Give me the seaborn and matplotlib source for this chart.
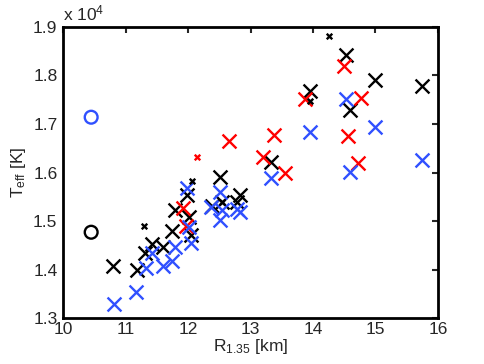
import matplotlib
matplotlib.use("Agg")
import matplotlib.pyplot as plt
import seaborn as sns
import pandas as pd

# R_1.35 [km], T_eff [K]
black_R = [10.80, 11.18, 11.31, 11.42, 11.60, 11.74, 11.79, 11.98, 12.02, 12.05,
           12.51, 12.38, 12.54, 12.83, 12.78, 13.33, 14.53, 13.95, 14.99, 15.74, 14.59]
black_T = [14070, 13990, 14340, 14530, 14470, 14800, 15230, 15540, 15090, 14720,
           15900, 15310, 15390, 15540, 15390, 16220, 18420, 17680, 17910, 17780, 17290]

black_small_R = [14.26, 13.95, 11.30, 12.06, 12.54]
black_small_T = [18810, 17470, 14900, 15820, 15390]

red_R = [12.66, 13.20, 13.55, 11.92, 11.97, 13.87, 14.50, 14.77, 13.38, 14.56, 14.72]
red_T = [16650, 16320, 15990, 15270, 14900, 17520, 18200, 17540, 16770, 16750, 16200]

red_small_R = [12.14]
red_small_T = [16320]

blue_R = [10.82, 11.17, 11.33, 11.42, 11.60, 11.74, 11.79, 11.98, 12.02, 12.05,
          12.51, 12.37, 12.54, 12.51, 12.83, 12.78, 13.33, 13.95, 14.53, 14.99,
          14.59, 15.74]
blue_T = [13290, 13540, 14030, 14340, 14070, 14180, 14460, 15680, 14880, 14550,
          15600, 15290, 15230, 15020, 15190, 15250, 15890, 16840, 17520, 16940,
          16010, 16260]

circle_R = [10.45, 10.45]
circle_T = [17140, 14770]
circle_group = ["blue", "black"]

BLUE = "#3050ff"
colors = {"black": "black", "red": "#ff0000", "blue": BLUE}

sns.set_style("white")
plt.rcParams["font.family"] = ["Liberation Sans", "DejaVu Sans"]
plt.rcParams["mathtext.fontset"] = "custom"
plt.rcParams["mathtext.rm"] = "Liberation Sans"
plt.rcParams["mathtext.it"] = "Liberation Sans"

fig = plt.figure(figsize=(4.85, 3.64), dpi=100)
ax = fig.add_axes([0.13, 0.126, 0.773, 0.8])

def frame(R, T):
    return pd.DataFrame({"R": R, "T": [t / 1e4 for t in T]})

big = 100
small = 16
lw = 1.7
FS = 12.5

sns.scatterplot(data=frame(black_R, black_T), x="R", y="T", ax=ax, marker="x",
                color="black", s=big, linewidth=lw)
sns.scatterplot(data=frame(red_R, red_T), x="R", y="T", ax=ax, marker="x",
                color=colors["red"], s=big, linewidth=lw)
sns.scatterplot(data=frame(blue_R, blue_T), x="R", y="T", ax=ax, marker="x",
                color=BLUE, s=big, linewidth=lw)
sns.scatterplot(data=frame(black_small_R, black_small_T), x="R", y="T", ax=ax,
                marker="x", color="black", s=small, linewidth=lw)
sns.scatterplot(data=frame(red_small_R, red_small_T), x="R", y="T", ax=ax,
                marker="x", color=colors["red"], s=small, linewidth=lw)
for r, t, g in zip(circle_R, circle_T, circle_group):
    sns.scatterplot(x=[r], y=[t / 1e4], ax=ax, marker="o", s=85,
                    facecolor="none", edgecolor=colors[g], linewidth=1.7)

ax.set_xlim(10, 16)
ax.set_ylim(1.3, 1.9)
ax.set_xticks([10, 11, 12, 13, 14, 15, 16])
ax.set_yticks([1.3, 1.4, 1.5, 1.6, 1.7, 1.8, 1.9])
ax.set_yticklabels(["1.3", "1.4", "1.5", "1.6", "1.7", "1.8", "1.9"])
ax.tick_params(direction="in", length=4, width=1.5, labelsize=FS,
               top=True, right=True)
ax.tick_params(axis="x", pad=3)
ax.tick_params(axis="y", pad=4)
for sp in ax.spines.values():
    sp.set_linewidth(2)
    sp.set_color("black")
ax.set_xlabel("R$_{1.35}$ [km]", fontsize=FS, labelpad=0)
ax.set_ylabel("T$_{\\rm eff}$ [K]", fontsize=FS, labelpad=4)
ax.text(0.0, 1.012, "x 10$^{4}$", transform=ax.transAxes, fontsize=FS,
        ha="left", va="bottom")
fig.savefig("out.png", dpi=100)
